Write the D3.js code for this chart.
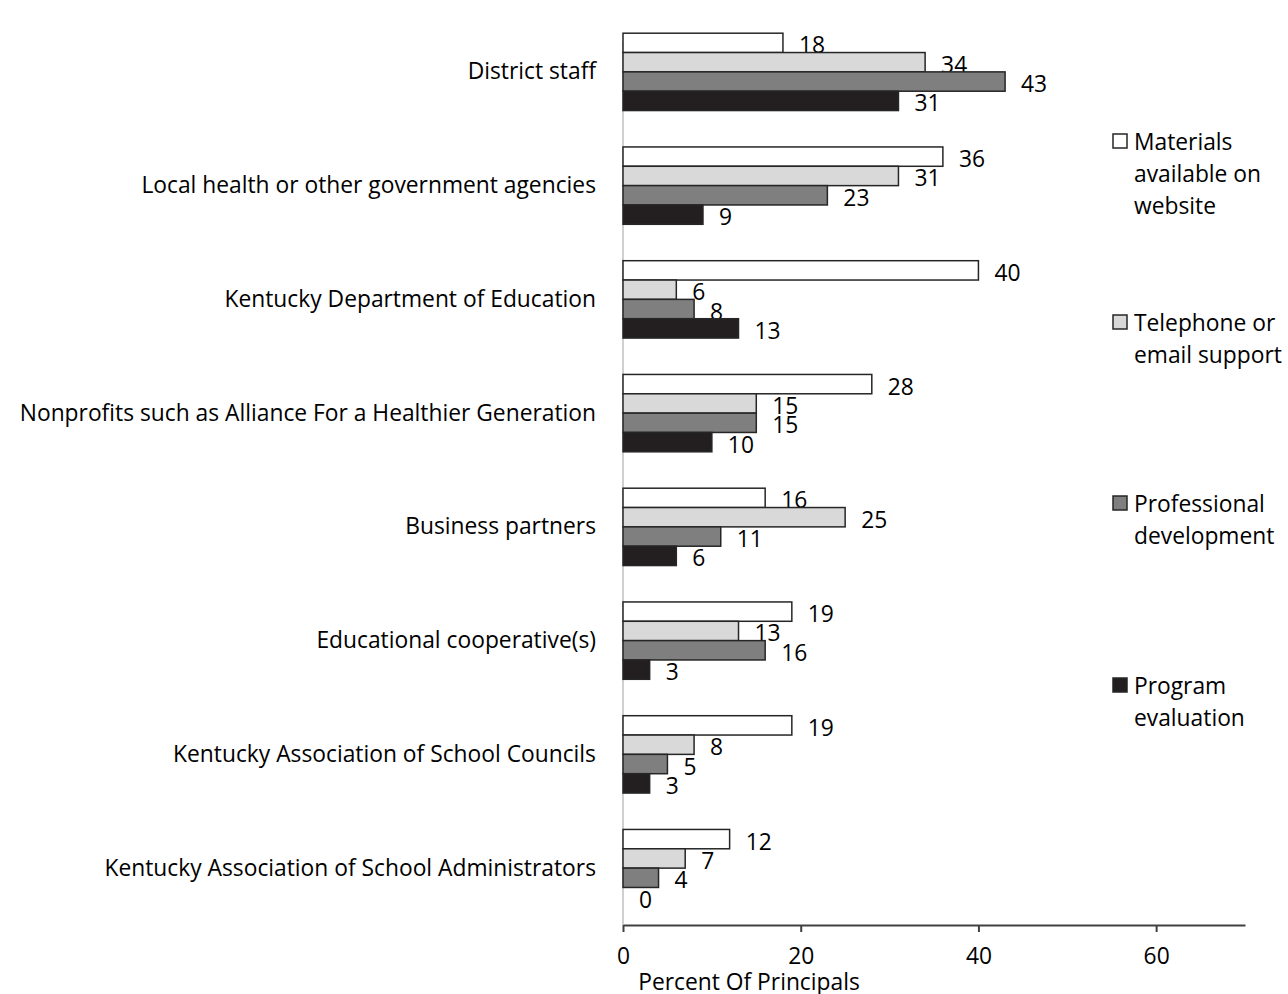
<!DOCTYPE html>
<html><head><meta charset="utf-8">
<script src="https://cdn.jsdelivr.net/npm/d3@7"></script>
<style>body{margin:0;background:#fff}svg{display:block}text{font-family:"Open Sans",Lato,sans-serif;fill:#000}</style>
</head><body><svg id="c" width="1288" height="994"></svg>
<script>
const categories = ["District staff","Local health or other government agencies","Kentucky Department of Education","Nonprofits such as Alliance For a Healthier Generation","Business partners","Educational cooperative(s)","Kentucky Association of School Councils","Kentucky Association of School Administrators"];
const seriesNames = ["Materials available on website","Telephone or email support","Professional development","Program evaluation"];
const legendLines = [["Materials","available on","website"],["Telephone or","email support"],["Professional","development"],["Program","evaluation"]];
const materials = [18,36,40,28,16,19,19,12];
const telephone = [34,31,6,15,25,13,8,7];
const professional = [43,23,8,15,11,16,5,4];
const evaluation = [31,9,13,10,6,3,3,0];
const xTicks = [0,20,40,60];
const colors = ["#ffffff","#d9d9d9","#7f7f7f","#231f20"];
const series = [materials,telephone,professional,evaluation];

const FS = 22.8;
const svg = d3.select("#c");
const pLeft = 623, pRight = 1245, pTop = 15, pBottom = 925;
const x = d3.scaleLinear().domain([0,70]).range([pLeft,pRight]);
const y = d3.scaleBand().domain(categories).range([pTop,pBottom]).paddingInner(0.32).paddingOuter(0.16);
const yi = d3.scaleBand().domain(d3.range(4)).range([0,y.bandwidth()]);

svg.append("line").attr("x1",pLeft).attr("x2",pLeft).attr("y1",42).attr("y2",pBottom).attr("stroke","#d0d0d0").attr("stroke-width",2);

categories.forEach((c,ci)=>{
  const g = svg.append("g").attr("transform",`translate(0,${y(c)})`);
  series.forEach((s,si)=>{
    const v = s[ci];
    g.append("rect").attr("x",x(0)).attr("y",yi(si)).attr("width",x(v)-x(0)).attr("height",yi.bandwidth())
      .attr("fill",colors[si]).attr("stroke",v>0?"#262626":"none").attr("stroke-width",1.5);
    g.append("text").attr("x",x(v)+16).attr("y",yi(si)+yi.bandwidth()/2+2).attr("dominant-baseline","central")
      .attr("font-size",FS).text(v);
  });
  svg.append("text").attr("x",596).attr("y",y(c)+y.bandwidth()/2-1).attr("text-anchor","end").attr("dominant-baseline","central")
    .attr("font-size",FS).text(c);
});

const xa = svg.append("g").attr("transform",`translate(0,${pBottom})`)
  .call(d3.axisBottom(x).tickValues(xTicks).tickSize(7).tickSizeOuter(0).tickPadding(16));
xa.select(".domain").attr("stroke","#404040").attr("stroke-width",2);
xa.selectAll(".tick line").attr("stroke","#404040").attr("stroke-width",2);
xa.selectAll(".tick text").attr("font-size",FS).attr("font-family","'Open Sans',Lato,sans-serif").attr("fill","#000");

svg.append("text").attr("x",749).attr("y",981).attr("dominant-baseline","central").attr("text-anchor","middle").attr("font-size",FS).text("Percent Of Principals");

const legY = [141,322,503,685];
legendLines.forEach((lines,i)=>{
  svg.append("rect").attr("x",1113).attr("y",legY[i]-7).attr("width",14).attr("height",14)
    .attr("fill",colors[i]).attr("stroke","#262626").attr("stroke-width",1.5);
  lines.forEach((l,j)=>{
    svg.append("text").attr("x",1134).attr("y",legY[i]+j*32).attr("dominant-baseline","central").attr("font-size",FS).text(l);
  });
});
</script></body></html>
